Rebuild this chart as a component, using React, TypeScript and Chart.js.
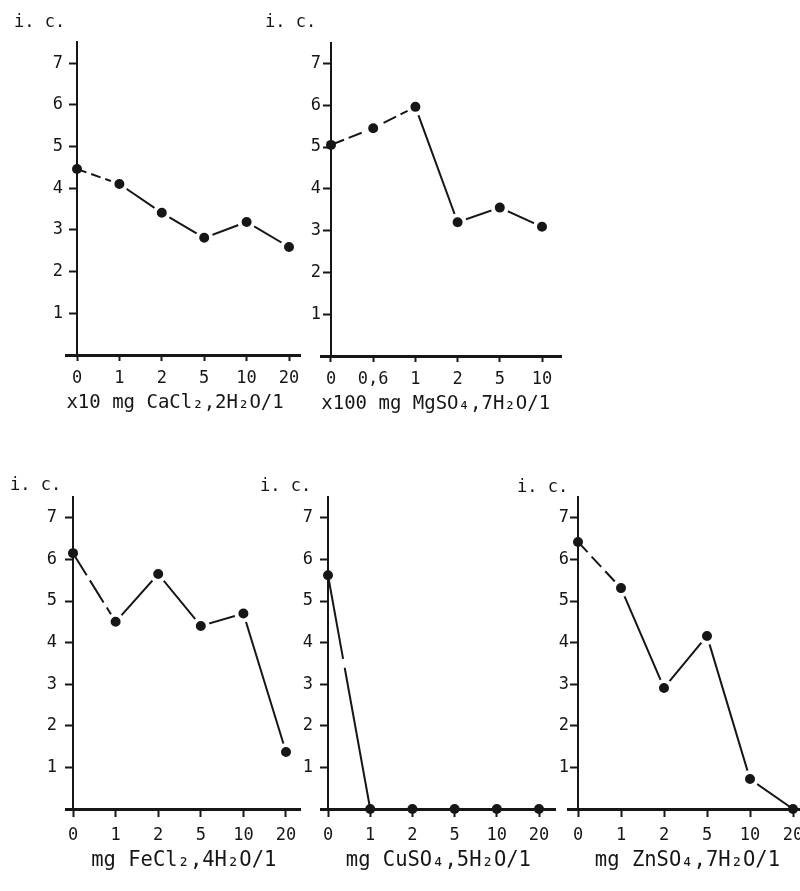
import React, { useEffect, useRef } from 'react';
import { Chart, registerables } from 'chart.js';

Chart.register(...registerables);

const FONT = "'DejaVu Sans Mono', monospace";
const INK = '#161616';
const LABEL_BOX = 40;

const yAxisLabel = 'i. c.';
const yTickValues = [1, 2, 3, 4, 5, 6, 7];

const caLabels = ['0', '1', '2', '5', '10', '20'];
const caValues = [4.46, 4.1, 3.41, 2.81, 3.19, 2.59];
const caTitle = 'x10 mg CaCl₂,2H₂O/1';

const mgLabels = ['0', '0,6', '1', '2', '5', '10'];
const mgValues = [5.05, 5.45, 5.96, 3.2, 3.55, 3.09];
const mgTitle = 'x100 mg MgSO₄,7H₂O/1';

const feLabels = ['0', '1', '2', '5', '10', '20'];
const feValues = [6.15, 4.5, 5.65, 4.4, 4.7, 1.37];
const feTitle = 'mg FeCl₂,4H₂O/1';

const cuLabels = ['0', '1', '2', '5', '10', '20'];
const cuValues = [5.62, 0, 0, 0, 0, 0];
const cuTitle = 'mg CuSO₄,5H₂O/1';

const znLabels = ['0', '1', '2', '5', '10', '20'];
const znValues = [6.42, 5.31, 2.91, 4.16, 0.72, 0];
const znTitle = 'mg ZnSO₄,7H₂O/1';

type Layout = {
  left: number; top: number; width: number; height: number;
  x0: number; xUnit: number; xMin: number; xMax: number;
  y0: number; yUnit: number; labelRight: number;
  scaleH: number; tickLen: number; tickPad: number;
  titleAlign: 'start' | 'center' | 'end'; titleSize: number;
  lineDash: number[]; nDashed: number;
  icLeft: number; icTop: number;
};

function Panel({ labels, values, title, L }: { labels: string[]; values: number[]; title: string; L: Layout }) {
  const ref = useRef<HTMLCanvasElement | null>(null);
  useEffect(() => {
    const areaLeft = L.x0 + L.xMin * L.xUnit;
    const areaRight = L.x0 + L.xMax * L.xUnit;
    const areaTop = L.y0 - 7.5 * L.yUnit;
    const padding = {
      left: areaLeft - L.left - LABEL_BOX,
      right: L.left + L.width - areaRight,
      top: areaTop - L.top,
      bottom: L.top + L.height - L.y0 - L.scaleH,
    };
    const onAxis = (c: any) => c.dataIndex === 0 || values[c.dataIndex] === 0;
    const chart = new Chart(ref.current as HTMLCanvasElement, {
      type: 'line',
      data: {
        datasets: [
          {
            data: values.map((v, i) => ({ x: i, y: v })),
            yAxisID: 'y',
            borderColor: INK,
            borderWidth: 2,
            backgroundColor: INK,
            pointBackgroundColor: INK,
            pointBorderColor: '#ffffff',
            pointRadius: (c: any) => (onAxis(c) ? 5 : 7),
            pointBorderWidth: (c: any) => (onAxis(c) ? 0 : 4),
            tension: 0,
            clip: false as any,
            segment: {
              borderDash: (c: any) => (c.p0DataIndex < L.nDashed ? L.lineDash : undefined),
            },
          } as any,
        ],
      },
      options: {
        animation: false,
        responsive: false,
        events: [],
        layout: { padding },
        plugins: { legend: { display: false }, tooltip: { enabled: false } },
        scales: {
          x: {
            type: 'linear',
            position: 'bottom',
            min: L.xMin,
            max: L.xMax,
            afterBuildTicks: (s: any) => {
              s.ticks = labels.map((_, i) => ({ value: i }));
            },
            afterFit: (s: any) => {
              s.height = L.scaleH;
            },
            ticks: {
              autoSkip: false,
              maxRotation: 0,
              padding: L.tickPad,
              color: INK,
              font: { family: FONT, size: 17 },
              callback: (v: any) => labels[v] ?? '',
            },
            grid: { drawOnChartArea: false, drawTicks: true, tickLength: L.tickLen, tickWidth: 2, tickColor: INK },
            border: { display: true, color: INK, width: 3 },
            title: {
              display: true,
              text: title,
              align: L.titleAlign,
              color: INK,
              font: { family: FONT, size: L.titleSize },
              padding: { top: 0, bottom: 0 },
            },
          },
          y: {
            type: 'linear',
            position: { x: 0 } as any,
            min: 0,
            max: 7.5,
            afterBuildTicks: (s: any) => {
              s.ticks = yTickValues.map((v) => ({ value: v }));
            },
            afterFit: (s: any) => {
              s.width = 0;
            },
            ticks: { display: false },
            grid: { drawOnChartArea: false, drawTicks: true, tickLength: 7, tickWidth: 2, tickColor: INK },
            border: { display: true, color: INK, width: 2 },
          },
          yl: {
            type: 'linear',
            position: 'left',
            display: true,
            min: 0,
            max: 7.5,
            afterBuildTicks: (s: any) => {
              s.ticks = yTickValues.map((v) => ({ value: v }));
            },
            afterFit: (s: any) => {
              s.width = LABEL_BOX;
            },
            ticks: {
              color: INK,
              padding: Math.max(0, areaLeft - L.labelRight),
              font: { family: FONT, size: 17 },
              callback: (v: any) => String(v),
            },
            grid: { display: false, drawTicks: false },
            border: { display: false },
          },
        },
      } as any,
    });
    return () => chart.destroy();
  }, []);
  return (
    <>
      <canvas
        ref={ref}
        width={L.width}
        height={L.height}
        style={{ position: 'absolute', left: L.left, top: L.top, width: L.width, height: L.height }}
      />
      <span
        style={{
          position: 'absolute',
          left: L.icLeft,
          top: L.icTop,
          font: `17px ${FONT}`,
          lineHeight: '20px',
          color: INK,
          whiteSpace: 'pre',
        }}
      >
        {yAxisLabel}
      </span>
    </>
  );
}

const P1: Layout = {
  left: 0, top: 0, width: 320, height: 430,
  x0: 77, xUnit: 42.4, xMin: -0.25, xMax: 5.27, y0: 355, yUnit: 41.7, labelRight: 63,
  scaleH: 59, tickLen: 6, tickPad: 7, titleAlign: 'start', titleSize: 19,
  lineDash: [10, 5], nDashed: 1, icLeft: 14, icTop: 11,
};
const P2: Layout = {
  left: 240, top: 0, width: 340, height: 430,
  x0: 331, xUnit: 42.2, xMin: -0.23, xMax: 5.47, y0: 356, yUnit: 41.8, labelRight: 321,
  scaleH: 59, tickLen: 6, tickPad: 7, titleAlign: 'start', titleSize: 19,
  lineDash: [14, 5], nDashed: 2, icLeft: 265, icTop: 11,
};
const P3: Layout = {
  left: 0, top: 450, width: 320, height: 441,
  x0: 73, xUnit: 42.6, xMin: -0.15, xMax: 5.35, y0: 809, yUnit: 41.6, labelRight: 57,
  scaleH: 64, tickLen: 8, tickPad: 8, titleAlign: 'center', titleSize: 20.5,
  lineDash: [26, 6], nDashed: 1, icLeft: 10, icTop: 474,
};
const P4: Layout = {
  left: 250, top: 450, width: 320, height: 441,
  x0: 328, xUnit: 42.2, xMin: -0.15, xMax: 5.38, y0: 809, yUnit: 41.6, labelRight: 313,
  scaleH: 64, tickLen: 8, tickPad: 8, titleAlign: 'center', titleSize: 20.5,
  lineDash: [85, 9, 1000, 0], nDashed: 1, icLeft: 260, icTop: 475,
};
const P5: Layout = {
  left: 500, top: 450, width: 320, height: 441,
  x0: 578, xUnit: 43, xMin: -0.21, xMax: 5.3, y0: 809, yUnit: 41.6, labelRight: 569,
  scaleH: 64, tickLen: 8, tickPad: 8, titleAlign: 'center', titleSize: 20.5,
  lineDash: [14, 6], nDashed: 1, icLeft: 517, icTop: 476,
};

export default function App() {
  return (
    <div
      style={{
        position: 'absolute',
        left: 0,
        top: 0,
        width: 800,
        height: 891,
        overflow: 'hidden',
        background: '#ffffff',
      }}
    >
      <Panel labels={caLabels} values={caValues} title={caTitle} L={P1} />
      <Panel labels={mgLabels} values={mgValues} title={mgTitle} L={P2} />
      <Panel labels={feLabels} values={feValues} title={feTitle} L={P3} />
      <Panel labels={cuLabels} values={cuValues} title={cuTitle} L={P4} />
      <Panel labels={znLabels} values={znValues} title={znTitle} L={P5} />
    </div>
  );
}
